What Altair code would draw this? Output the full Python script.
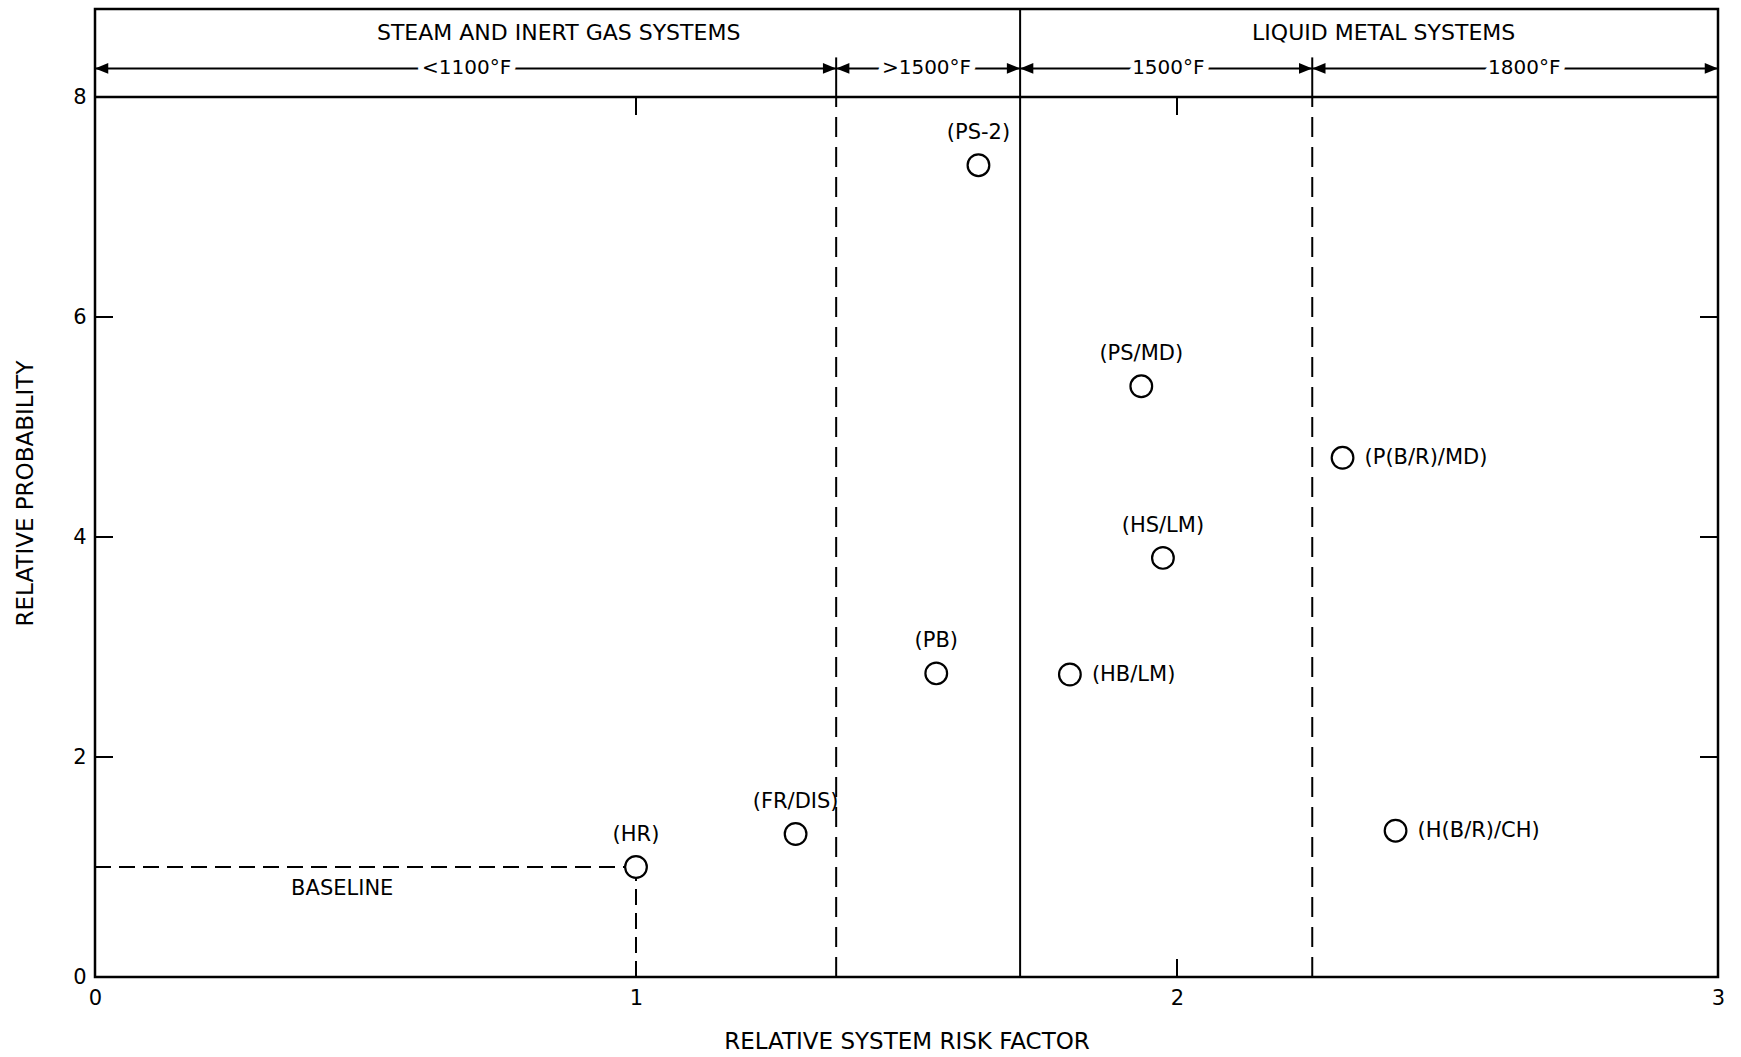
import altair as alt
import pandas as pd

# ---------------- data ----------------
system_labels = ["(HR)", "(FR/DIS)", "(PB)", "(PS-2)", "(HB/LM)", "(PS/MD)",
                 "(HS/LM)", "(P(B/R)/MD)", "(H(B/R)/CH)"]
risk_factor = [1.00, 1.295, 1.555, 1.633, 1.802, 1.934, 1.974, 2.306, 2.404]
probability = [1.00, 1.30, 2.76, 7.38, 2.75, 5.37, 3.81, 4.72, 1.33]
label_side = ["top", "top", "top", "top", "right", "top", "top", "right", "right"]

region_titles = ["STEAM AND INERT GAS SYSTEMS", "LIQUID METAL SYSTEMS"]
region_title_x = [0.857, 2.382]
region_title_y = [8.58, 8.58]

temp_labels = ["<1100°F", ">1500°F", "1500°F", "1800°F"]
temp_start = [0.0, 1.37, 1.71, 2.25]
temp_end = [1.37, 1.71, 2.25, 3.0]
temp_label_x = [0.687, 1.537, 1.984, 2.642]
temp_row_y = 8.26

region_divider = [1.71]
temp_dividers = [1.37, 2.25]
header_base_y = [8.0]
header_stub_top = 8.36

baseline_value = 1.0
baseline_text = ["BASELINE"]
baseline_text_x = [0.457]
baseline_text_y = [0.80]

x_ticks = [0, 1, 2, 3]
y_ticks = [0, 2, 4, 6, 8]
x_inner_ticks_bottom = [2]
x_inner_ticks_top = [1, 2]
y_inner_ticks = [2, 4, 6]

x_domain = [0, 3]
y_domain = [0, 8.8]

# ---------------- styling ----------------
FONT = "DejaVu Sans"
W, H = 1623, 968
TICK = 18

xscale = alt.Scale(domain=x_domain, nice=False, zero=False)
yscale = alt.Scale(domain=y_domain, nice=False, zero=False)

x_axis = alt.Axis(values=x_ticks, title="RELATIVE SYSTEM RISK FACTOR", grid=False,
                  ticks=False, domain=False, labelFontSize=21, labelFont=FONT,
                  labelPadding=10, labelColor="black", format="d", labelFlush=False,
                  titleFont=FONT, titleFontSize=23, titleFontWeight="normal",
                  titleColor="black", titleY=64, titleBaseline="middle")
y_axis = alt.Axis(values=y_ticks, title="RELATIVE PROBABILITY", grid=False,
                  ticks=False, domain=False, labelFontSize=21, labelFont=FONT,
                  labelPadding=9, labelColor="black", format="d", labelFlush=False,
                  titleFont=FONT, titleFontSize=23, titleFontWeight="normal",
                  titleColor="black", titleX=-70, titleBaseline="middle")


def X(f):
    return alt.X(f, type="quantitative", scale=xscale, axis=x_axis)


def Y(f):
    return alt.Y(f, type="quantitative", scale=yscale, axis=y_axis)


pts = pd.DataFrame({"label": system_labels, "x": risk_factor,
                    "y": probability, "side": label_side})

# header base line at y = 8
header_line = alt.Chart(pd.DataFrame({"y": header_base_y})).mark_rule(
    color="black", strokeWidth=2.5).encode(y=Y("y"))

# solid divider between the two system groups
divider = alt.Chart(pd.DataFrame({"x": region_divider})).mark_rule(
    color="black", strokeWidth=2).encode(x=X("x"))

div_df = pd.DataFrame({"x": temp_dividers,
                       "y0": [0.0] * len(temp_dividers),
                       "y1": header_base_y * len(temp_dividers),
                       "y2": [header_stub_top] * len(temp_dividers)})
dashed_div = alt.Chart(div_df).mark_rule(
    color="black", strokeWidth=2, strokeDash=[20, 10]).encode(
    x=X("x"), y=Y("y0"), y2="y1")
stub_div = alt.Chart(div_df).mark_rule(color="black", strokeWidth=2).encode(
    x=X("x"), y=Y("y1"), y2="y2")

temp_df = pd.DataFrame({"label": temp_labels, "start": temp_start, "end": temp_end,
                        "lx": temp_label_x, "y": [temp_row_y] * len(temp_labels)})
arrow_lines = alt.Chart(temp_df).mark_rule(color="black", strokeWidth=2).encode(
    x=X("start"), x2="end", y=Y("y"))
halo = alt.Chart(temp_df).mark_text(
    font=FONT, fontSize=20, fill="white", stroke="white", strokeWidth=12,
    strokeJoin="round", baseline="middle").encode(x=X("lx"), y=Y("y"), text="label")
temp_text = alt.Chart(temp_df).mark_text(
    font=FONT, fontSize=20, color="black", baseline="middle").encode(
    x=X("lx"), y=Y("y"), text="label")

LEFT_HEAD = "M0,0L1,-0.4L1,0.4Z"
RIGHT_HEAD = "M0,0L-1,-0.4L-1,0.4Z"
head_left = alt.Chart(temp_df).mark_point(
    shape=LEFT_HEAD, size=700, filled=True, color="black", opacity=1,
    strokeWidth=0).encode(x=X("start"), y=Y("y"))
head_right = alt.Chart(temp_df).mark_point(
    shape=RIGHT_HEAD, size=700, filled=True, color="black", opacity=1,
    strokeWidth=0).encode(x=X("end"), y=Y("y"))

titles_df = pd.DataFrame({"t": region_titles, "x": region_title_x, "y": region_title_y})
region_text = alt.Chart(titles_df).mark_text(
    font=FONT, fontSize=22, color="black", baseline="middle").encode(
    x=X("x"), y=Y("y"), text="t")

# baseline dashed lines
base_df = pd.DataFrame({"x0": [0.0], "x1": [baseline_value],
                        "y0": [0.0], "y1": [baseline_value]})
base_h = alt.Chart(base_df).mark_rule(color="black", strokeWidth=2,
                                      strokeDash=[16, 8]).encode(
    x=X("x0"), x2="x1", y=Y("y1"))
base_v = alt.Chart(base_df).mark_rule(color="black", strokeWidth=2,
                                      strokeDash=[16, 8]).encode(
    x=X("x1"), y=Y("y0"), y2="y1")
base_label = alt.Chart(pd.DataFrame({"t": baseline_text, "x": baseline_text_x,
                                     "y": baseline_text_y})).mark_text(
    font=FONT, fontSize=21, color="black", baseline="middle").encode(
    x=X("x"), y=Y("y"), text="t")

# inward tick marks
tb_df = pd.DataFrame({"x": x_inner_ticks_bottom, "y": [0.0] * len(x_inner_ticks_bottom)})
tt_df = pd.DataFrame({"x": x_inner_ticks_top, "y": header_base_y * len(x_inner_ticks_top)})
tl_df = pd.DataFrame({"y": y_inner_ticks, "x": [x_domain[0]] * len(y_inner_ticks)})
tr_df = pd.DataFrame({"y": y_inner_ticks, "x": [x_domain[1]] * len(y_inner_ticks)})
tick_b = alt.Chart(tb_df).mark_tick(orient="vertical", size=TICK, thickness=2,
                                    color="black", opacity=1, yOffset=-TICK / 2).encode(
    x=X("x"), y=Y("y"))
tick_t = alt.Chart(tt_df).mark_tick(orient="vertical", size=TICK, thickness=2,
                                    color="black", opacity=1, yOffset=TICK / 2).encode(
    x=X("x"), y=Y("y"))
tick_l = alt.Chart(tl_df).mark_tick(orient="horizontal", size=TICK, thickness=2,
                                    color="black", opacity=1, xOffset=TICK / 2).encode(
    x=X("x"), y=Y("y"))
tick_r = alt.Chart(tr_df).mark_tick(orient="horizontal", size=TICK, thickness=2,
                                    color="black", opacity=1, xOffset=-TICK / 2).encode(
    x=X("x"), y=Y("y"))

# data points and labels
circles = alt.Chart(pts).mark_point(
    shape="circle", size=470, filled=True, fill="white", stroke="black",
    strokeWidth=2.2, opacity=1, fillOpacity=1).encode(x=X("x"), y=Y("y"))
lab_top = alt.Chart(pts).transform_filter(alt.datum.side == "top").mark_text(
    font=FONT, fontSize=21, color="black", align="center", baseline="middle",
    dy=-32).encode(x=X("x"), y=Y("y"), text="label")
lab_right = alt.Chart(pts).transform_filter(alt.datum.side == "right").mark_text(
    font=FONT, fontSize=21, color="black", align="left", baseline="middle",
    dx=22).encode(x=X("x"), y=Y("y"), text="label")

chart = alt.layer(
    header_line, divider, dashed_div, stub_div, arrow_lines, halo, temp_text,
    head_left, head_right, region_text, base_h, base_v, base_label,
    tick_b, tick_t, tick_l, tick_r, circles, lab_top, lab_right
).properties(
    width=W, height=H,
    padding={"left": 95, "top": 9, "right": 23, "bottom": 80},
    autosize=alt.AutoSizeParams(type="none"),
).configure(background="white").configure_view(stroke="black", strokeWidth=2.5)

chart.save("out.html", embed_options={"renderer": "svg", "actions": False})
